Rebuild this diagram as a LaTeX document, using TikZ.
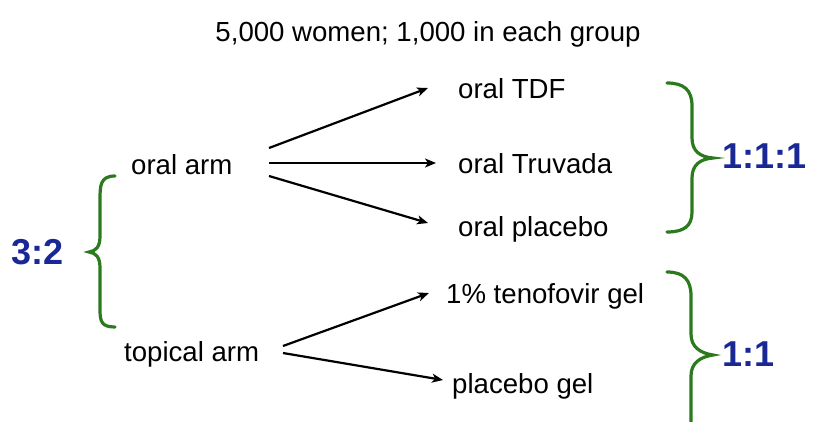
\documentclass[tikz,border=0pt]{standalone}
\usepackage{fontspec}
\setmainfont{Liberation Sans}
\usetikzlibrary{arrows.meta}
\definecolor{bracegreen}{HTML}{2B7A1E}
\definecolor{ratioblue}{HTML}{1A2896}
\tikzset{
  lbl/.style={anchor=base west, inner sep=0pt, font=\fontsize{27.6}{32}\selectfont},
  ratio/.style={anchor=base west, inner sep=0pt, text=ratioblue, font=\fontsize{36}{40}\selectfont\bfseries},
  arr/.style={-{Stealth[length=11pt,width=9pt,inset=3pt]}, line width=2.2pt},
  brace/.style={draw=bracegreen, line width=3.2pt, line cap=round}
}
\begin{document}
\begin{tikzpicture}[x=1pt,y=-1pt]
\useasboundingbox (0,0) rectangle (813,421);
\node[anchor=base, inner sep=0pt, font=\fontsize{27.6}{32}\selectfont] (title) at (428,41) {5,000 women; 1,000 in each group};
\node[lbl] (oral) at (131,174) {oral arm};
\node[lbl] (topical) at (124,361) {topical arm};
\node[lbl] (tdf) at (458,98) {oral TDF};
\node[lbl] (truvada) at (458,173) {oral Truvada};
\node[lbl] (oplac) at (458,236) {oral placebo};
\node[lbl] (teno) at (446,303) {1\% tenofovir gel};
\node[lbl] (gplac) at (452,393) {placebo gel};
\node[ratio] (r32) at (11,264) {3:2};
\node[ratio] (r111) at (722,168) {1:1:1};
\node[ratio] (r11) at (722,366) {1:1};
% arrows
\coordinate (o1) at (269,148);
\coordinate (o2) at (269,163);
\coordinate (o3) at (269,176);
\coordinate (t1) at (283,346);
\coordinate (t2) at (283,353);
\draw[arr] (o1) -- (428,88) coordinate (e1);
\draw[arr] (o2) -- (436,163) coordinate (e2);
\draw[arr] (o3) -- (428,223) coordinate (e3);
\draw[arr] (t1) -- (429,293) coordinate (e4);
\draw[arr] (t2) -- (443,380) coordinate (e5);
% left brace
\draw[brace] (115,176) .. controls (100,176) and (100,186) .. (100,200)
  -- (100,236) .. controls (100,247) and (96,251) .. (89,252)
  .. controls (96,253) and (100,257) .. (100,268)
  -- (100,310) .. controls (100,322) and (102,327) .. (115,327);
% right brace 1
\draw[brace] (667,83) .. controls (684,83) and (692,90) .. (692,106)
  -- (692,138) .. controls (692,151) and (700,157) .. (713,158)
  .. controls (700,159) and (692,165) .. (692,178)
  -- (692,212) .. controls (692,226) and (684,232) .. (667,232);
% right brace 2
\draw[brace] (667,272) .. controls (684,272) and (691,280) .. (691,296)
  -- (691,334) .. controls (691,347) and (700,353) .. (713,355)
  .. controls (700,357) and (691,363) .. (691,376)
  -- (691,430);
\end{tikzpicture}
\end{document}
